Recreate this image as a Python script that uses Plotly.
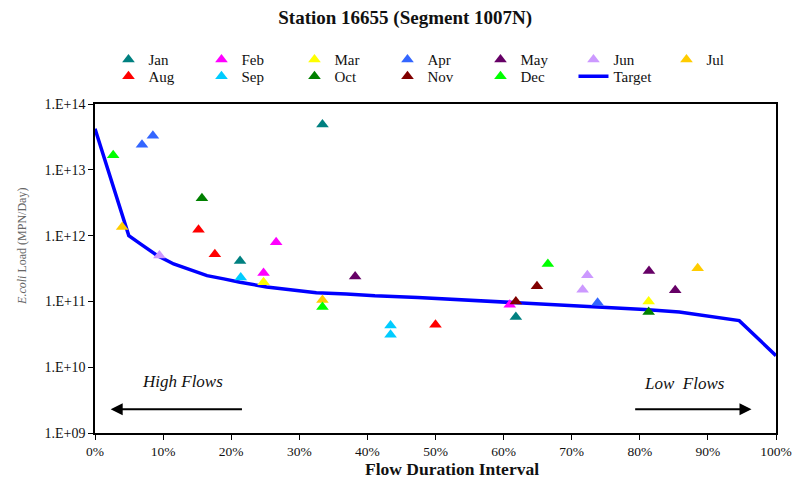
import plotly.graph_objects as go

# ---- data (flow duration interval %, E. coli load MPN/day) ----
months = ["Jan", "Feb", "Mar", "Apr", "May", "Jun", "Jul",
          "Aug", "Sep", "Oct", "Nov", "Dec"]
colors = ["#008080", "#FF00FF", "#FFFF00", "#3366FF", "#660066", "#CC99FF", "#FFCC00",
          "#FF0000", "#00CCFF", "#008000", "#800000", "#00FF00"]

jan_x = [33.4, 21.3, 61.8];  jan_y = [4.9e13, 4.1e11, 5.8e10]
feb_x = [24.75, 26.6, 60.9]; feb_y = [2.7e11, 7.9e11, 8.9e10]
mar_x = [24.75, 81.3];       mar_y = [1.95e11, 1.0e11]
apr_x = [6.9, 8.5, 73.8];    apr_y = [2.4e13, 3.3e13, 9.5e10]
may_x = [38.2, 81.35, 85.2]; may_y = [2.4e11, 2.9e11, 1.48e11]
jun_x = [9.46, 72.3, 71.6];  jun_y = [5.0e11, 2.5e11, 1.5e11]
jul_x = [3.99, 33.4, 88.5];  jul_y = [1.35e12, 1.05e11, 3.2e11]
aug_x = [15.2, 17.6, 50.0];  aug_y = [1.23e12, 5.2e11, 4.4e10]
sep_x = [21.4, 43.4, 43.4];  sep_y = [2.3e11, 4.3e10, 3.1e10]
oct_x = [15.7, 81.3];        oct_y = [3.7e12, 6.9e10]
nov_x = [61.8, 64.9];        nov_y = [1.0e11, 1.7e11]
dec_x = [2.67, 33.4, 66.5];  dec_y = [1.66e13, 8.2e10, 3.7e11]

target_x = [0, 4.96, 6.67, 9.12, 11.55, 14.0, 16.45, 18.9, 21.3, 25.2, 29.4, 32.5,
            36.9, 41.1, 47.4, 53.3, 57.1, 60.9, 64.6, 68.0, 70.5, 74.1, 80.7, 85.8,
            88.3, 90.5, 93.2, 94.6, 100]
target_y = [4.2e13, 1.0e12, 7.5e11, 5.0e11, 3.7e11, 3.0e11, 2.46e11, 2.2e11, 1.95e11,
            1.66e11, 1.5e11, 1.35e11, 1.3e11, 1.22e11, 1.15e11, 1.07e11, 1.0e11, 9.5e10,
            9.2e10, 8.9e10, 8.5e10, 8.2e10, 7.5e10, 6.9e10, 6.3e10, 5.8e10, 5.3e10,
            5.1e10, 1.5e10]

xs = [jan_x, feb_x, mar_x, apr_x, may_x, jun_x, jul_x, aug_x, sep_x, oct_x, nov_x, dec_x]
ys = [jan_y, feb_y, mar_y, apr_y, may_y, jun_y, jul_y, aug_y, sep_y, oct_y, nov_y, dec_y]

y_tickvals = [1e9, 1e10, 1e11, 1e12, 1e13, 1e14]
y_ticktext = ["1.E+09", "1.E+10", "1.E+11", "1.E+12", "1.E+13", "1.E+14"]
x_tickvals = [0, 10, 20, 30, 40, 50, 60, 70, 80, 90, 100]
x_ticktext = ["0%", "10%", "20%", "30%", "40%", "50%", "60%", "70%", "80%", "90%", "100%"]

SERIF = "Liberation Serif, Times New Roman, serif"

fig = go.Figure()

# target line first so the markers sit on top
fig.add_trace(go.Scatter(x=target_x, y=target_y, mode="lines", name="Target",
                         line=dict(color="#0000FF", width=3.5),
                         legend="legend2", legendrank=100))

for i, (m, c) in enumerate(zip(months, colors)):
    fig.add_trace(go.Scatter(x=xs[i], y=ys[i], mode="markers", name=m,
                             marker=dict(symbol="triangle-up", size=11, color=c,
                                         line=dict(width=0)),
                             legend="legend" if i < 7 else "legend2",
                             legendrank=i + 1))

fig.update_layout(
    width=793, height=479,
    margin=dict(l=94.5, r=16.5, t=103.5, b=46, autoexpand=False),
    paper_bgcolor="white", plot_bgcolor="white",
    font=dict(family=SERIF, size=13, color="#111111"),
    showlegend=True,
    title=dict(text="<b>Station 16655 (Segment 1007N)</b>", x=0.511, xanchor="center",
               y=0.964, yanchor="middle", font=dict(size=19, family=SERIF, color="#111111")),
    legend=dict(orientation="h", x=0.0198, xanchor="left", y=1.185, yanchor="top",
                entrywidth=48, entrywidthmode="pixels", traceorder="normal",
                font=dict(size=15, family=SERIF, color="#111111"),
                bgcolor="rgba(0,0,0,0)"),
    legend2=dict(orientation="h", x=0.0198, xanchor="left", y=1.134, yanchor="top",
                 entrywidth=48, entrywidthmode="pixels", traceorder="normal",
                 font=dict(size=15, family=SERIF, color="#111111"),
                 bgcolor="rgba(0,0,0,0)"),
    xaxis=dict(range=[0, 100], tickvals=x_tickvals, ticktext=x_ticktext,
               showgrid=False, zeroline=False, showline=True, linecolor="black",
               linewidth=1.5, mirror=True, ticks="outside", ticklen=5, tickcolor="black",
               tickfont=dict(size=13.5, family=SERIF, color="#111111")),
    yaxis=dict(type="log", range=[9, 14], tickvals=y_tickvals, ticktext=y_ticktext,
               showgrid=False, zeroline=False, showline=True, linecolor="black",
               linewidth=1.5, mirror=True, ticks="outside", ticklen=5, tickcolor="black",
               tickfont=dict(size=14, family=SERIF, color="#111111")),
)

annotations = [
    # axis titles
    dict(text="<b>Flow Duration Interval</b>", xref="paper", yref="paper",
         x=(452 - 94.5) / 682, y=-(469 - 433) / 329.5, xanchor="center", yanchor="middle",
         showarrow=False, font=dict(size=17.5, family=SERIF, color="#111111")),
    dict(text="<i>E.coli</i> Load (MPN/Day)", xref="paper", yref="paper",
         x=(22 - 94.5) / 682, y=(433 - 246) / 329.5, xanchor="center", yanchor="middle",
         textangle=-90, showarrow=False, font=dict(size=12, family=SERIF, color="#666666")),
    # flow regime labels
    dict(text="<i>High Flows</i>", x=12.8, y=9.78, xref="x", yref="y", showarrow=False,
         font=dict(size=17, family=SERIF, color="#111111")),
    dict(text="<i>Low  Flows</i>", x=86.6, y=9.75, xref="x", yref="y", showarrow=False,
         font=dict(size=17, family=SERIF, color="#111111")),
    # arrows
    dict(text="", x=2.3, y=9.36, ax=21.8, ay=9.36, xref="x", yref="y", axref="x", ayref="y",
         showarrow=True, arrowhead=2, arrowsize=1.2, arrowwidth=2, arrowcolor="black"),
    dict(text="", x=96.4, y=9.36, ax=79.1, ay=9.36, xref="x", yref="y", axref="x", ayref="y",
         showarrow=True, arrowhead=2, arrowsize=1.2, arrowwidth=2, arrowcolor="black"),
]
fig.update_layout(annotations=annotations)

# remove the browser's default 8px body margin so the figure fills the window exactly
fig.write_html("out.html", config={"displayModeBar": False},
               post_script="document.body.style.margin='0';")
